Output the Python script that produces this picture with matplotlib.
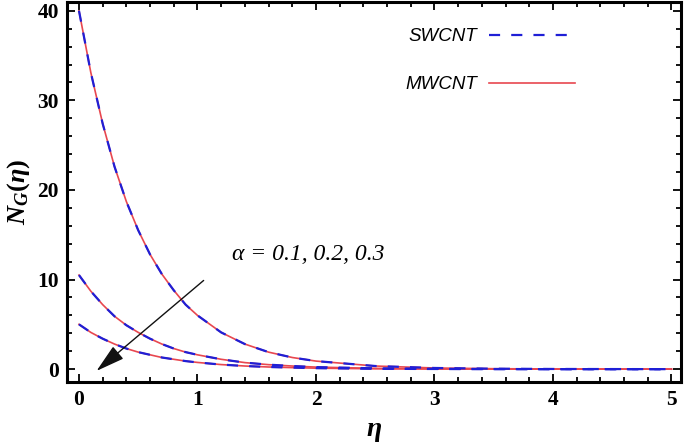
import numpy as np
import matplotlib
matplotlib.use("Agg")
import matplotlib.pyplot as plt

plt.rcParams['mathtext.fontset'] = 'custom'
plt.rcParams['mathtext.it'] = 'Liberation Serif:italic:bold'
plt.rcParams['mathtext.rm'] = 'Liberation Serif:bold'
plt.rcParams['mathtext.bf'] = 'Liberation Serif:bold'

eta = [0, 0.1, 0.2, 0.3, 0.4, 0.5, 0.6, 0.7, 0.8, 0.9, 1.0, 1.2, 1.4,
       1.6, 1.8, 2.0, 2.5, 3.0, 3.5, 4.0, 4.5, 5.0]

# N_G for alpha = 0.1, 0.2, 0.3 (SWCNT and MWCNT lie on top of each other)
ng_a1 = [40, 33.1, 27.4, 22.6, 18.7, 15.5, 12.8, 10.6, 8.8, 7.2, 6.0, 4.1, 2.8,
         1.9, 1.3, 0.9, 0.35, 0.13, 0.05, 0.02, 0.01, 0.0]
ng_a2 = [10.5, 8.7, 7.2, 5.9, 4.9, 4.1, 3.4, 2.8, 2.3, 1.9, 1.6, 1.1, 0.73,
         0.50, 0.35, 0.23, 0.09, 0.03, 0.01, 0.0, 0.0, 0.0]
ng_a3 = [5.0, 4.1, 3.4, 2.8, 2.3, 1.9, 1.6, 1.3, 1.1, 0.9, 0.75, 0.51, 0.35,
         0.24, 0.17, 0.11, 0.04, 0.02, 0.01, 0.0, 0.0, 0.0]

swcnt = [ng_a1, ng_a2, ng_a3]
mwcnt = [ng_a1, ng_a2, ng_a3]

fig = plt.figure(figsize=(6.85, 4.48), dpi=100)
ax = fig.add_axes([0.098, 0.147, 0.896, 0.849])

for i, y in enumerate(mwcnt):
    ax.plot(eta, y, color='#e8474f', lw=1.2, label='MWCNT' if i == 0 else None)
for i, y in enumerate(swcnt):
    ax.plot(eta, y, color='#1f1fd6', lw=1.6, dashes=(5, 5),
            label='SWCNT' if i == 0 else None)

ax.set_xlim(-0.1, 5.08)
ax.set_ylim(-1.45, 41)
ax.set_xticks([0, 1, 2, 3, 4, 5])
ax.set_yticks([0, 10, 20, 30, 40])
ax.set_xticks(np.arange(0, 5.01, 0.2), minor=True)
ax.set_yticks(np.arange(0, 41, 2), minor=True)
ax.tick_params(which='both', direction='in', top=True, right=True, width=1.3)
ax.tick_params(which='major', length=6, pad=6)
ax.tick_params(which='minor', length=3.5)
for lab in ax.get_xticklabels() + ax.get_yticklabels():
    lab.set_fontfamily('Liberation Serif')
    lab.set_fontweight('bold')
    lab.set_fontsize(15.5)
for s in ax.spines.values():
    s.set_linewidth(2.2)

ax.set_xlabel(r'$\eta$', fontsize=20, labelpad=4)
ax.set_ylabel(r'$N_G(\eta)$', fontsize=19, labelpad=4)

ax.text(1.29, 12.8, 'α = 0.1, 0.2, 0.3', family='Liberation Serif',
        style='italic', fontsize=17, va='center')
ax.annotate('', xy=(0.13, -0.4), xytext=(1.07, 10.1),
            arrowprops=dict(arrowstyle='-|>,head_length=1.8,head_width=0.5',
                            color='#111111', lw=1))

handles, labels = ax.get_legend_handles_labels()
leg = ax.legend(handles[::-1], labels[::-1], loc='upper right', frameon=False,
                markerfirst=False, labelspacing=1.65,
                handlelength=4.6, handletextpad=0.6,
                bbox_to_anchor=(0.855, 0.975),
                prop={'family': 'Liberation Sans', 'style': 'italic', 'size': 13.5})

fig.savefig('out.png', dpi=100)
